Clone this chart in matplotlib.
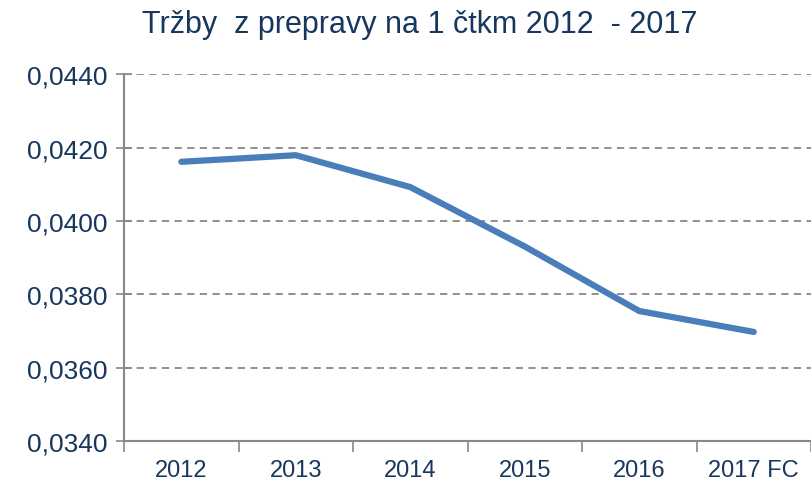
import numpy as np
import matplotlib
matplotlib.use("Agg")
import matplotlib.pyplot as plt
from matplotlib.ticker import FuncFormatter

years = ["2012", "2013", "2014", "2015", "2016", "2017 FC"]
revenue = [0.04161, 0.04179, 0.04092, 0.0393, 0.03754, 0.03697]
yticks = [0.0340, 0.0360, 0.0380, 0.0400, 0.0420, 0.0440]

NAVY = "#17375e"
fam = ["Liberation Sans", "DejaVu Sans"]
plt.rcParams["font.family"] = fam

fig = plt.figure(figsize=(8.11, 4.85), dpi=100)
ax = fig.add_axes([0.153, 0.089, 0.847, 0.756])

x = np.arange(len(years))
ax.plot(x, revenue, color="#4a7ebb", lw=4.5, solid_capstyle="round")

ax.set_xlim(-0.5, len(years) - 0.5)
ax.set_ylim(0.0340, 0.0440)
ax.set_yticks(yticks)
ax.yaxis.set_major_formatter(FuncFormatter(lambda v, p: f"{v:.4f}".replace(".", ",")))
ax.set_xticks(x)
ax.set_xticklabels(years, fontsize=17, color=NAVY)
ax.set_xticks(np.arange(len(years) + 1) - 0.5, minor=True)
ax.tick_params(axis="x", which="major", length=0, pad=13)
ax.tick_params(axis="x", which="minor", length=8, width=1.2, color="#888888", direction="out")
ax.tick_params(axis="y", length=12, width=1.2, color="#888888", direction="inout",
               labelsize=19, labelcolor=NAVY, pad=6)

ax.grid(axis="y", ls=(0, (4, 3)), color="#888888", lw=1.3)
for s in ["top", "right"]:
    ax.spines[s].set_visible(False)
for s in ["left", "bottom"]:
    ax.spines[s].set_color("#888888")
    ax.spines[s].set_linewidth(1.5)

fig.suptitle("Tržby  z prepravy na 1 čtkm 2012  - 2017", x=0.518, y=0.98,
             fontsize=22, color=NAVY)

fig.savefig("out.png", dpi=100)
